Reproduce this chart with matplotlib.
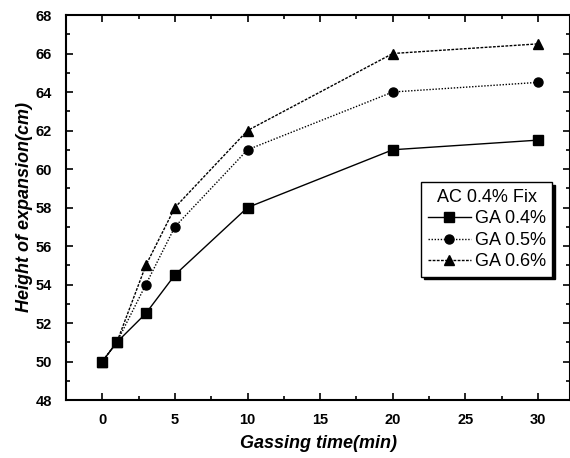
import numpy as np
import matplotlib as mpl
import matplotlib.pyplot as plt
from matplotlib.ticker import MultipleLocator

# Data
time = [0, 1, 3, 5, 10, 20, 30]
ga04 = [50, 51, 52.5, 54.5, 58, 61, 61.5]
ga05 = [50, 51, 54, 57, 61, 64, 64.5]
ga06 = [50, 51, 55, 58, 62, 66, 66.5]

mpl.rcParams['font.family'] = ['Liberation Sans', 'DejaVu Sans']

fig = plt.figure(figsize=(5.7, 4.58), dpi=100)
ax = fig.add_axes([66 / 570, 58 / 458, 504 / 570, 385 / 458])

ms = 6.5
ax.plot(time, ga04, color='black', lw=1.0, ls='-', marker='s', ms=ms, label='GA 0.4%')
ax.plot(time, ga05, color='black', lw=1.0, ls=(0, (1, 1.2)), marker='o', ms=ms, label='GA 0.5%')
ax.plot(time, ga06, color='black', lw=1.0, ls=(0, (2.0, 1.0)), marker='^', ms=ms + 0.5, label='GA 0.6%')

ax.set_xlim(-2.5, 32.2)
ax.set_ylim(48, 68)
ax.xaxis.set_major_locator(MultipleLocator(5))
ax.xaxis.set_minor_locator(MultipleLocator(2.5))
ax.yaxis.set_major_locator(MultipleLocator(2))
ax.yaxis.set_minor_locator(MultipleLocator(1))
ax.tick_params(which='both', direction='in', top=True, right=True, width=1.2)
ax.tick_params(which='major', length=5, labelsize=10.5)
ax.tick_params(axis='x', which='major', pad=9)
ax.tick_params(axis='y', which='major', pad=10)
ax.tick_params(which='minor', length=3)
for lab in ax.get_xticklabels() + ax.get_yticklabels():
    lab.set_fontweight('bold')
for s in ax.spines.values():
    s.set_linewidth(1.5)

ax.set_xlabel('Gassing time(min)', fontsize=13, fontweight='bold', fontstyle='italic', labelpad=6)
ax.set_ylabel('Height of expansion(cm)', fontsize=13, fontweight='bold', fontstyle='italic', labelpad=2)

leg = ax.legend(title='AC 0.4% Fix', loc='upper left', bbox_to_anchor=(0.705, 0.565),
                fontsize=13, title_fontsize=13, frameon=True, fancybox=False,
                shadow={'color': 'black', 'alpha': 1.0}, handlelength=2.4,
                handletextpad=0.2, borderpad=0.35, labelspacing=0.25, borderaxespad=0)
leg.get_frame().set_edgecolor('black')
leg.get_frame().set_linewidth(1.0)

fig.savefig('out.png', dpi=100)
